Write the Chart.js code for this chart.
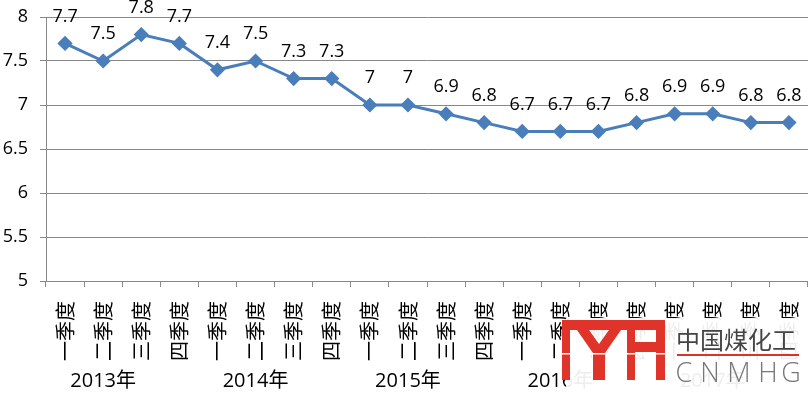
<!DOCTYPE html>
<html>
<head>
<meta charset="utf-8">
<script src="https://cdn.jsdelivr.net/npm/chart.js@4.4.1/dist/chart.umd.min.js"></script>
<style>
  body { margin: 0; background: #fff; }
  #wrap { width: 808px; height: 396px; position: relative; }
</style>
</head>
<body>
<div id="wrap"><canvas id="gdp"></canvas></div>
<script>
const quarters = [
    '一季度', '二季度', '三季度', '四季度',
    '一季度', '二季度', '三季度', '四季度',
    '一季度', '二季度', '三季度', '四季度',
    '一季度', '二季度', '三季度', '四季度',
    '一季度', '二季度', '三季度', '四季度'
];
const years = ['2013年', '2014年', '2015年', '2016年', '2017年'];
const growth = [7.7, 7.5, 7.8, 7.7, 7.4, 7.5, 7.3, 7.3, 7, 7, 6.9, 6.8, 6.7, 6.7, 6.7, 6.8, 6.9, 6.9, 6.8, 6.8];
const yTicks = [5, 5.5, 6, 6.5, 7, 7.5, 8];

const blue = '#4a7ebb';
const latin = '"Open Sans", "Noto Sans CJK SC", sans-serif';
const cjk = '"Noto Sans CJK SC", sans-serif';

// value labels above each point
const pointLabels = {
    id: 'pointLabels',
    afterDatasetsDraw(chart) {
        const ctx = chart.ctx;
        const meta = chart.getDatasetMeta(0);
        ctx.save();
        ctx.font = '18px ' + latin;
        ctx.fillStyle = '#000';
        ctx.textAlign = 'center';
        ctx.textBaseline = 'middle';
        meta.data.forEach((pt, i) => {
            ctx.fillText(String(growth[i]), pt.x, pt.y - 27);
        });
        ctx.restore();
    }
};

// second level of the category axis: the years
const yearRow = {
    id: 'yearRow',
    afterDraw(chart) {
        const ctx = chart.ctx;
        const x = chart.scales.x;
        ctx.save();
        ctx.font = '20px ' + latin;
        ctx.fillStyle = '#000';
        ctx.textAlign = 'center';
        ctx.textBaseline = 'middle';
        years.forEach((y, i) => {
            ctx.fillText(y, x.getPixelForValue(i * 4 + 1), 381);
        });
        ctx.restore();
    }
};

// watermark logo in the lower right corner
const logo = {
    id: 'logo',
    afterDraw(chart) {
        const ctx = chart.ctx;
        ctx.save();
        ctx.fillStyle = 'rgba(255,255,255,0.93)';
        ctx.fillRect(566, 318, 242, 78);

        ctx.fillStyle = '#e0332a';
        ctx.fillRect(562, 320, 103, 10);
        ctx.fillRect(562, 320, 8, 60);
        ctx.beginPath();
        ctx.moveTo(577, 330);
        ctx.lineTo(589, 330);
        ctx.lineTo(599, 344);
        ctx.lineTo(609, 330);
        ctx.lineTo(621, 330);
        ctx.lineTo(605, 353);
        ctx.lineTo(605, 380);
        ctx.lineTo(593, 380);
        ctx.lineTo(593, 353);
        ctx.closePath();
        ctx.fill();
        ctx.fillRect(627, 320, 8, 60);
        ctx.fillRect(656, 320, 9, 60);
        ctx.fillRect(635, 342, 21, 10);
        ctx.fillStyle = '#fff';
        ctx.fillRect(560, 353, 108, 1.5);

        ctx.font = '24px ' + cjk;
        ctx.fillStyle = '#444';
        ctx.textAlign = 'left';
        ctx.textBaseline = 'middle';
        ctx.fillText('中国煤化工', 676, 340);

        ctx.fillStyle = '#d9342b';
        ctx.fillRect(677, 354, 122, 2);

        ctx.font = '300 27px ' + latin;
        ctx.fillStyle = '#777';
        ctx.textAlign = 'center';
        const letters = ['C', 'N', 'M', 'H', 'G'];
        const cx = [684, 710, 739, 768, 791];
        letters.forEach((c, i) => ctx.fillText(c, cx[i], 374));
        ctx.restore();
    }
};

new Chart(document.getElementById('gdp'), {
    type: 'line',
    data: {
        labels: quarters,
        datasets: [{
            data: growth,
            borderColor: blue,
            backgroundColor: blue,
            borderWidth: 3,
            tension: 0,
            pointStyle: 'rectRot',
            pointRadius: 5.5,
            pointHoverRadius: 5.5,
            pointBackgroundColor: blue,
            pointBorderColor: blue
        }]
    },
    options: {
        responsive: true,
        maintainAspectRatio: false,
        animation: false,
        layout: { autoPadding: false, padding: { top: 17, right: 0, left: 0, bottom: 0 } },
        plugins: {
            legend: { display: false },
            tooltip: { enabled: false }
        },
        scales: {
            x: {
                type: 'category',
                offset: true,
                grid: { offset: true, drawOnChartArea: false, drawTicks: true, tickLength: 6, color: '#888' },
                border: { color: '#888' },
                ticks: {
                    autoSkip: false,
                    minRotation: 90,
                    maxRotation: 90,
                    padding: 14,
                    color: '#000',
                    font: { size: 20, family: cjk }
                },
                afterFit(scale) {
                    scale.height = 115;
                    scale.paddingLeft = 0;
                    scale.paddingRight = 0;
                }
            },
            y: {
                min: 5,
                max: 8,
                afterBuildTicks(scale) { scale.ticks = yTicks.map(v => ({ value: v })); },
                grid: { color: '#888', tickLength: 6 },
                border: { color: '#888' },
                ticks: {
                    padding: 12,
                    color: '#000',
                    font: { size: 18, family: latin },
                    callback: v => String(v)
                },
                afterFit(scale) {
                    scale.width = 46;
                    scale.paddingTop = 0;
                    scale.paddingBottom = 0;
                }
            }
        }
    },
    plugins: [pointLabels, yearRow, logo]
});
</script>
</body>
</html>
